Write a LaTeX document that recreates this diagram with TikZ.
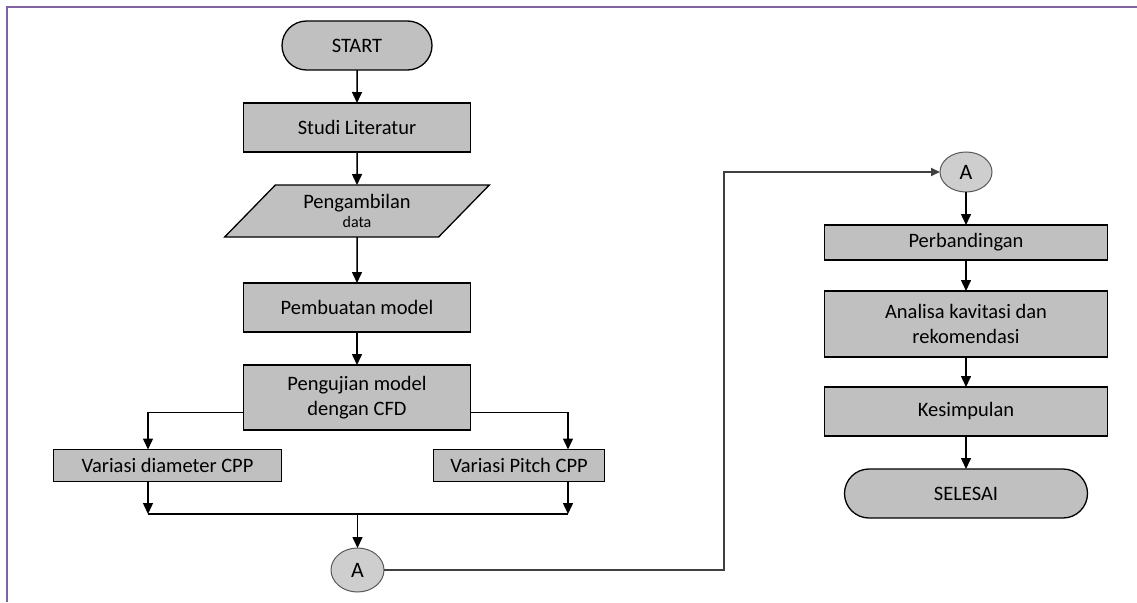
\documentclass[tikz,border=0pt]{standalone}
\usepackage{fontspec}
\setmainfont{Carlito}
\usepackage{tikz}
\usetikzlibrary{positioning}
\usetikzlibrary{shapes.geometric}
\usetikzlibrary{shapes.misc}
\usetikzlibrary{arrows.meta}
\definecolor{boxgray}{RGB}{192,192,192}
\definecolor{conngray}{RGB}{206,206,206}
\definecolor{framepurple}{RGB}{128,100,162}

\begin{document}
\begin{tikzpicture}[x=1pt, y=-1pt,
    font=\fontsize{20.5}{25}\selectfont,
    every node/.style={inner sep=0pt, outer sep=0pt},
    proc/.style={draw=black, line width=1.3pt, fill=boxgray, minimum width=227pt, minimum height=49pt, align=center},
    term/.style={draw=black, line width=1.3pt, fill=boxgray, rounded rectangle, minimum width=150pt, minimum height=49pt},
    io/.style={draw=black, line width=1.3pt, fill=boxgray, trapezium, trapezium left angle=45, trapezium right angle=135, trapezium stretches=true, minimum width=265pt, minimum height=52pt, align=center},
    conn/.style={draw=black!65, line width=1pt, fill=conngray, ellipse, font=\fontsize{22}{26}\selectfont},
    arr/.style={-{Triangle[length=11pt,width=10pt]}, line width=1.5pt},
    link/.style={draw=black!75, line width=1.8pt}
]
    \useasboundingbox (0,0) rectangle (1137,602);
    \draw[framepurple, line width=2pt] (6.5,602) -- (6.5,7.5) -- (1137,7.5);

    \node[term] (start) at (357,45.5) {START};
    \node[proc, below=33pt of start] (studi) {Studi Literatur};
    \node[io, below=33pt of studi] (ambil) {Pengambilan\\[-6pt]{\fontsize{16}{18}\selectfont data}};
    \node[proc, below=46pt of ambil] (model) {Pembuatan model};
    \node[proc, below=33pt of model, minimum height=65pt] (uji) {Pengujian model\\dengan CFD};

    \node[proc, minimum width=228pt, minimum height=32pt] (vdia) at (167.5,465.5) {Variasi diameter CPP};
    \node[proc, minimum width=171pt, minimum height=32pt] (vpitch) at (519,465.5) {Variasi Pitch CPP};
    \node[conn, minimum width=53pt, minimum height=44pt] (ca) at (357.5,570) {A};

    \node[conn, minimum width=52pt, minimum height=40pt] (cb) at (966,172) {A};
    \node[proc, minimum width=283pt, minimum height=35pt, below=33pt of cb] (banding) {Perbandingan};
    \node[proc, minimum width=283pt, minimum height=66pt, below=31pt of banding] (analisa) {Analisa kavitasi dan\\rekomendasi};
    \node[proc, minimum width=283pt, below=30pt of analisa] (simpul) {Kesimpulan};
    \node[term, minimum width=243pt, below=33pt of simpul] (selesai) {SELESAI};

    \coordinate (jl) at (148,514);
    \coordinate (jr) at (568,514);
    \coordinate (turn) at (724,172);

    \draw[arr] (start) -- (studi);
    \draw[arr] (studi) -- (ambil);
    \draw[arr] (ambil) -- (model);
    \draw[arr] (model) -- (uji);
    \draw[arr] ([yshift=-15pt]uji.west) -| (vdia.north -| jl);
    \draw[arr] ([yshift=-15pt]uji.east) -| (vpitch.north -| jr);
    \draw[arr] (vdia.south -| jl) -- (jl);
    \draw[arr] (vpitch.south -| jr) -- (jr);
    \draw[line width=1.5pt] (jl) -- (jr);
    \draw[arr] (jl -| ca.north) -- (ca.north);
    \draw[link, -{Triangle[length=9pt,width=8pt]}] (ca.east) -| (turn) -- (cb.west);

    \draw[arr] (cb) -- (banding);
    \draw[arr] (banding) -- (analisa);
    \draw[arr] (analisa) -- (simpul);
    \draw[arr] (simpul) -- (selesai);
\end{tikzpicture}
\end{document}
